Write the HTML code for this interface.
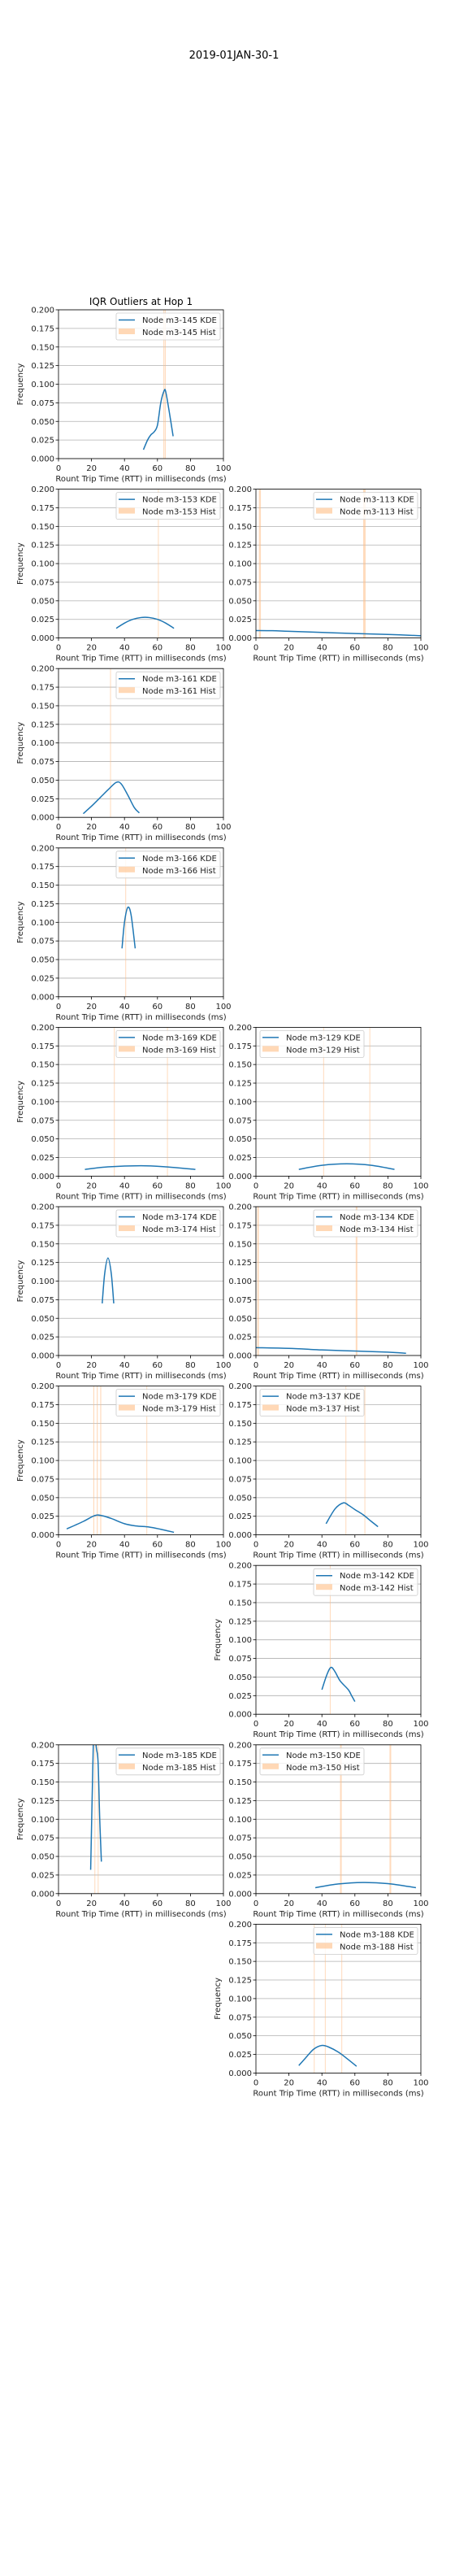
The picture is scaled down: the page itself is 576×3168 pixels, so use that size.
<!DOCTYPE html>
<html><head><meta charset="utf-8">
<style>
html,body{margin:0;padding:0;background:#fff;}
svg{display:block;font-family:"DejaVu Sans","Liberation Sans",sans-serif;}
</style></head>
<body>
<svg id="fig" width="576" height="3168" viewBox="0 0 576 3168" xmlns="http://www.w3.org/2000/svg">
<rect width="576" height="3168" fill="#fff"/>
<text x="288" y="72" text-anchor="middle" font-size="13" fill="#000">2019-01JAN-30-1</text>
</svg>
<script>
const nodes = ["m3-145","m3-153","m3-113","m3-161","m3-166","m3-169","m3-129","m3-174","m3-134","m3-179","m3-137","m3-142","m3-185","m3-150","m3-188"];
const rows = [0,1,1,2,3,4,4,5,5,6,6,7,8,8,9];
const cols = [0,0,1,0,0,0,1,0,1,0,1,1,0,1,1];
const legendLeft = [0,0,0,0,0,0,1,0,0,0,1,0,0,1,0];
const kdeX = [
 [51.5,54,56,58,60,62,64,65,67,69.5],
 [35,40,45,50,55,60,65,70],
 [0,10,20,40,60,80,100],
 [15,20,25,30,35,38,42,46,49],
 [38.5,40,42,44,46.5],
 [16,30,50,65,83],
 [26,40,55,70,84],
 [26.5,28,30,32,33.5],
 [0,20,40,60,80,91],
 [5,15,22,26,32,40,47,55,62,70],
 [42.5,48,53,56,60,65,70,74],
 [40,43,45.5,48,51,56,58,60],
 [19.5,20.8,21.5,23,24,25,26],
 [36,50,65,80,97],
 [26,30,35,40,44,50,56,61]
];
const kdeY = [
 [0.012,0.025,0.032,0.036,0.045,0.075,0.091,0.09,0.065,0.03],
 [0.013,0.020,0.025,0.0275,0.0275,0.025,0.020,0.013],
 [0.010,0.0098,0.009,0.0075,0.006,0.0048,0.003],
 [0.005,0.015,0.026,0.037,0.047,0.045,0.03,0.013,0.006],
 [0.065,0.1,0.12,0.11,0.065],
 [0.009,0.0125,0.014,0.0125,0.009],
 [0.009,0.0145,0.0165,0.0145,0.009],
 [0.07,0.11,0.131,0.11,0.07],
 [0.0105,0.0095,0.0075,0.006,0.0045,0.003],
 [0.008,0.018,0.026,0.026,0.022,0.015,0.012,0.0105,0.0075,0.0035],
 [0.015,0.035,0.043,0.04,0.034,0.027,0.018,0.011],
 [0.033,0.053,0.063,0.057,0.045,0.033,0.025,0.017],
 [0.032,0.17,0.22,0.195,0.176,0.1,0.043],
 [0.008,0.013,0.015,0.0135,0.008],
 [0.01,0.02,0.032,0.037,0.035,0.028,0.018,0.009]
];
const histLo = [
 [63.6,64.4],[60.3],[1.8,65],[31.3],[40.5],[33.6,65.8],[40.8,68.8],[],[0.8,60.5],[21.1,23.2,25.3,53.3],[54.3,65.8],[44.8],[21.8,23.8],[51,81],[35.1,41.8,51.8]
];
const histHi = [
 [64.1,65],[60.8],[3,66.5],[31.8],[41],[34.1,66.3],[41.3,69.3],[],[1.8,61.5],[21.7,23.8,25.9,53.8],[54.8,66.3],[45.3],[22.3,24.3],[52,82],[35.6,42.3,52.3]
];
const xTicks = [0,20,40,60,80,100];
const yTicks = [0,0.025,0.05,0.075,0.1,0.125,0.15,0.175,0.2];
const yTickLabels = ["0.000","0.025","0.050","0.075","0.100","0.125","0.150","0.175","0.200"];

const NS = "http://www.w3.org/2000/svg";
const svg = document.getElementById("fig");
const AW = 203, AH = 183, ROW0 = 381, PITCH = 220.6;
const COLX = [72, 315];
function mk(tag, attrs, parent){
  const e = document.createElementNS(NS, tag);
  for (const k in attrs) e.setAttribute(k, attrs[k]);
  (parent||svg).appendChild(e);
  return e;
}
function hasLeftNeighbor(i){
  for (let j=0;j<nodes.length;j++) if (rows[j]===rows[i] && cols[j]===0) return true;
  return false;
}
nodes.forEach((node, i) => {
  const L = COLX[cols[i]], T = ROW0 + rows[i]*PITCH, B = T + AH;
  const sx = v => L + v/100*AW;
  const sy = v => B - v/0.2*AH;
  const g = mk("g", {});
  
  
  const cid = "clip" + i;
  const cp = mk("clipPath", {id: cid}, g);
  mk("rect", {x: L, y: T, width: AW, height: AH}, cp);
  // grid
  yTicks.forEach((t, k) => {
    const gl = mk("line", {x1: L, x2: L+AW, y1: sy(t), y2: sy(t), stroke: "#b0b0b0", "stroke-width": 0.8}, g);
    
    
    const tl = mk("text", {x: L-5, y: sy(t)+3.5, "text-anchor": "end", "font-size": 10, fill: "#222"}, g);
    tl.textContent = yTickLabels[k];
    
    
    mk("line", {x1: L-3.5, x2: L, y1: sy(t), y2: sy(t), stroke: "#000", "stroke-width": 0.8}, g);
  });
  xTicks.forEach(t => {
    mk("line", {x1: sx(t), x2: sx(t), y1: B, y2: B+3.5, stroke: "#000", "stroke-width": 0.8}, g);
    const tl = mk("text", {x: sx(t), y: B+15, "text-anchor": "middle", "font-size": 10, fill: "#222"}, g);
    tl.textContent = String(t);
    
    
  });
  // hist bars
  const hg = mk("g", {"clip-path": "url(#"+cid+")"}, g);
  histLo[i].forEach((lo, k) => {
    const hi = histHi[i][k];
    const r = mk("rect", {x: sx(lo), y: T, width: Math.max(1, sx(hi)-sx(lo)), height: AH, fill: "#ffbe86", "fill-opacity": 0.55}, hg);
    
    
  });
  // kde
  const pts = kdeX[i].map((x, k) => [sx(x), sy(kdeY[i][k])]);
  let d = "M" + pts[0][0] + "," + pts[0][1];
  for (let k=0;k<pts.length-1;k++){
    const p0 = pts[Math.max(0,k-1)], p1 = pts[k], p2 = pts[k+1], p3 = pts[Math.min(pts.length-1,k+2)];
    const c1 = [p1[0]+(p2[0]-p0[0])/6, p1[1]+(p2[1]-p0[1])/6];
    const c2 = [p2[0]-(p3[0]-p1[0])/6, p2[1]-(p3[1]-p1[1])/6];
    d += " C" + c1[0]+","+c1[1]+" "+c2[0]+","+c2[1]+" "+p2[0]+","+p2[1];
  }
  const kl = mk("path", {d: d, fill: "none", stroke: "#1f77b4", "stroke-width": 1.5}, hg);
  
  
  // frame
  mk("rect", {x: L, y: T, width: AW, height: AH, fill: "none", stroke: "#000", "stroke-width": 0.8}, g);
  // legend
  const lx = legendLeft[i] ? L+5 : L+71, ly = T+4;
  const lg = mk("g", {}, g);
  
  
  mk("rect", {x: lx, y: ly, width: 128, height: 33, rx: 2, fill: "#fff", "fill-opacity": 0.8, stroke: "#ccc", "stroke-width": 0.8}, lg);
  mk("line", {x1: lx+3, x2: lx+23, y1: ly+8.5, y2: ly+8.5, stroke: "#1f77b4", "stroke-width": 1.5}, lg);
  mk("rect", {x: lx+3, y: ly+19, width: 20, height: 7, fill: "#ffbe86", "fill-opacity": 0.6}, lg);
  const t1 = mk("text", {x: lx+32, y: ly+12, "font-size": 10, fill: "#222"}, lg);
  t1.textContent = "Node " + node + " KDE";
  
  
  const t2 = mk("text", {x: lx+32, y: ly+27, "font-size": 10, fill: "#222"}, lg);
  t2.textContent = "Node " + node + " Hist";
  
  
  // axis labels
  const xl = mk("text", {x: L+AW/2, y: B+28, "text-anchor": "middle", "font-size": 10, fill: "#222"}, g);
  xl.textContent = "Rount Trip Time (RTT) in milliseconds (ms)";
  
  
  if (cols[i]===0 || !hasLeftNeighbor(i)){
    const yx = L-44, yy = T+AH/2;
    const yl = mk("text", {x: yx, y: yy, "text-anchor": "middle", "font-size": 10, fill: "#222", transform: "rotate(-90 "+yx+" "+yy+")"}, g);
    yl.textContent = "Frequency";
    
    
  }
  if (i===0){
    const st = mk("text", {x: L+AW/2, y: T-6, "text-anchor": "middle", "font-size": 12, fill: "#000"}, g);
    st.textContent = "IQR Outliers at Hop 1";
    
    
  }
});
</script>
</body></html>
